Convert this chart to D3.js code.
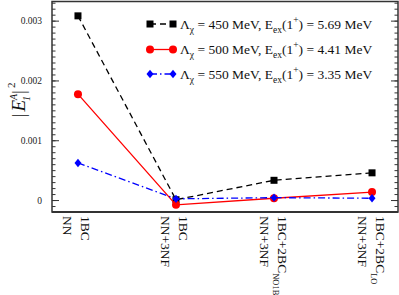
<!DOCTYPE html>
<html>
<head>
<meta charset="utf-8">
<script src="https://cdn.jsdelivr.net/npm/d3@7"></script>
<style>
  body { margin: 0; background: white; }
  svg { display: block; }
</style>
</head>
<body>
<div id="chart"></div>
<script>
let font = "'Liberation Serif', 'Times New Roman', serif"

// x categories: two label lines each (line2 may carry a subscript)
let kategorien = [0, 1, 2, 3]
let zeile1 = ["NN", "NN+3NF", "NN+3NF", "NN+3NF"]
let zeile2 = ["1BC", "1BC", "1BC+2BC", "1BC+2BC"]
let zeile2sub = ["", "", "NO1B", "LO"]

// |E_1^A|^2 values
let werte450 = [0.00308, 0.000005, 0.00033, 0.000455]
let werte500 = [0.00177, -0.00008, 0.00003, 0.000133]
let werte550 = [0.00062, 0.00002, 0.00004, 0.00003]

let yMajor = [0, 0.001, 0.002, 0.003]
let yMajorText = ["0", "0.001", "0.002", "0.003"]
let yMinor = d3.range(-1, 34).map(d => d / 10000)

let legende = [
    { lam: "450", eex: "5.69" },
    { lam: "500", eex: "4.41" },
    { lam: "550", eex: "3.35" }
]

let serien = [
    { werte: werte450, farbe: "#000000", dash: "6,4", marker: "square" },
    { werte: werte500, farbe: "#ff0000", dash: null, marker: "circle" },
    { werte: werte550, farbe: "#0000ff", dash: "7,3,1.5,3", marker: "diamond" }
]

let width = 399, height = 295
let rLinks = 52, rRechts = 398, rOben = 1.5, rUnten = 212

let svg = d3.select("#chart").append("svg")
    .attr("width", width)
    .attr("height", height)

let x = d3.scaleLinear().domain([-0.265, 3.265]).range([rLinks, rRechts])
let y = d3.scaleLinear().domain([-0.0002, 0.00332]).range([rUnten, rOben])

// axes (ticks pointing inward)
svg.append("g").attr("transform", "translate(" + rLinks + ",0)")
    .call(d3.axisLeft(y).tickValues(yMinor).tickSize(-3.5).tickFormat(""))
svg.append("g").attr("transform", "translate(" + rLinks + ",0)")
    .call(d3.axisLeft(y).tickValues(yMajor).tickSize(-7).tickPadding(10)
        .tickFormat((d, i) => yMajorText[i]))
    .call(g => g.selectAll("text").attr("font-family", font).attr("font-size", "9.5px").attr("fill", "#222"))
svg.append("g").attr("transform", "translate(" + rRechts + ",0)")
    .call(d3.axisRight(y).tickValues(yMinor).tickSize(-3.5).tickFormat(""))
svg.append("g").attr("transform", "translate(" + rRechts + ",0)")
    .call(d3.axisRight(y).tickValues(yMajor).tickSize(-7).tickFormat(""))
svg.selectAll(".domain").remove()
svg.selectAll(".tick line").attr("stroke", "#333").attr("stroke-width", 1)

// frame
svg.append("rect")
    .attr("x", rLinks).attr("y", rOben)
    .attr("width", rRechts - rLinks).attr("height", rUnten - rOben)
    .attr("fill", "none").attr("stroke", "#333").attr("stroke-width", 1.5)
svg.append("line")
    .attr("x1", rLinks).attr("x2", rRechts).attr("y1", rUnten).attr("y2", rUnten)
    .attr("stroke", "#333").attr("stroke-width", 2)

function zeichneMarker(g, art, cx, cy, farbe) {
    if (art == "square") {
        g.append("rect").attr("x", cx - 3.5).attr("y", cy - 3.5)
            .attr("width", 7).attr("height", 7).attr("fill", farbe)
    } else if (art == "circle") {
        g.append("circle").attr("cx", cx).attr("cy", cy).attr("r", 4).attr("fill", farbe)
    } else {
        g.append("path").attr("d", "M" + cx + "," + (cy - 4.2) + "L" + (cx + 3.5) + "," + cy +
            "L" + cx + "," + (cy + 4.2) + "L" + (cx - 3.5) + "," + cy + "Z").attr("fill", farbe)
    }
}

let linie = d3.line().x((d, i) => x(kategorien[i])).y(d => y(d))

serien.forEach(s => {
    let g = svg.append("g")
    g.append("path").datum(s.werte)
        .attr("d", linie)
        .attr("fill", "none")
        .attr("stroke", s.farbe)
        .attr("stroke-width", 1.3)
        .attr("stroke-dasharray", s.dash)
    s.werte.forEach((v, i) => zeichneMarker(g, s.marker, x(kategorien[i]), y(v), s.farbe))
})

// legend
let legY = [24, 49.5, 74]
legende.forEach((l, i) => {
    let s = serien[i]
    let g = svg.append("g")
    g.append("line").attr("x1", 150).attr("x2", 173).attr("y1", legY[i]).attr("y2", legY[i])
        .attr("stroke", s.farbe).attr("stroke-width", 1.3).attr("stroke-dasharray", s.dash)
    zeichneMarker(g, s.marker, 150, legY[i], s.farbe)
    zeichneMarker(g, s.marker, 173, legY[i], s.farbe)
    let t = g.append("text").attr("x", 180).attr("y", legY[i] + 4.5)
        .attr("font-family", font).attr("font-size", "13.5px").attr("fill", "#111")
    t.append("tspan").text("Λ")
    t.append("tspan").attr("font-size", "9.5px").attr("dy", 4).text("χ")
    t.append("tspan").attr("dy", -4).text(" = " + l.lam + " MeV, E")
    t.append("tspan").attr("font-size", "9.5px").attr("dy", 4).text("ex")
    t.append("tspan").attr("dy", -4).text("(1")
    t.append("tspan").attr("font-size", "9.5px").attr("dy", -6).text("+")
    t.append("tspan").attr("dy", 6).text(") = " + l.eex + " MeV")
})

// x labels, rotated, reading downward
kategorien.forEach((k, i) => {
    let cx = x(k)
    svg.append("text")
        .attr("transform", "translate(" + (cx - 14.5) + ",216) rotate(90)")
        .attr("font-family", font).attr("font-size", "13.5px").attr("fill", "#111")
        .text(zeile1[i])
    let t = svg.append("text")
        .attr("transform", "translate(" + (cx + 3.5) + ",216) rotate(90)")
        .attr("font-family", font).attr("font-size", "13.5px").attr("fill", "#111")
    t.append("tspan").text(zeile2[i])
    if (zeile2sub[i] != "") {
        t.append("tspan").attr("font-size", "8.5px").attr("dy", 5).text(zeile2sub[i])
    }
})

// y label |E_1^A|^2
let yl = svg.append("text")
    .attr("transform", "translate(25,100) rotate(-90)")
    .attr("text-anchor", "middle")
    .attr("font-family", font).attr("font-size", "19px").attr("fill", "#111")
yl.append("tspan").text("|")
yl.append("tspan").attr("font-style", "italic").attr("dx", 2).text("E")
yl.append("tspan").attr("font-size", "10px").attr("font-style", "italic").attr("dy", -8).text("A")
yl.append("tspan").attr("font-size", "10px").attr("font-style", "italic").attr("dy", 13).attr("dx", -7).text("1")
yl.append("tspan").attr("dy", -5).attr("dx", 2).text("|")
yl.append("tspan").attr("font-size", "11px").attr("dy", -10).attr("dx", 2).text("2")
</script>
</body>
</html>
